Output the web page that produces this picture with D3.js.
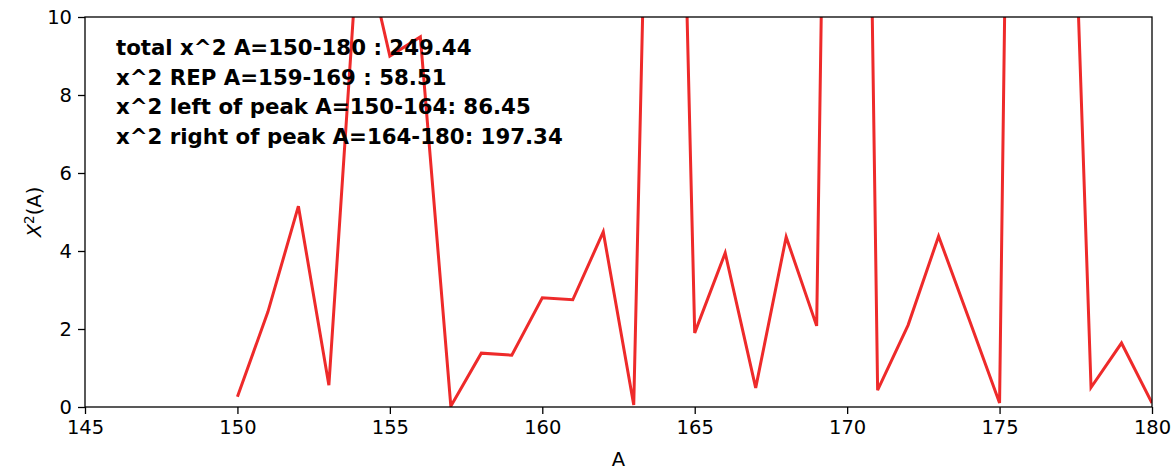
<!DOCTYPE html>
<html>
<head>
<meta charset="utf-8">
<script src="https://cdn.jsdelivr.net/npm/d3@7"></script>
<style>
  html, body { margin: 0; padding: 0; background: #fff; }
  svg { display: block; }
  text { font-family: "DejaVu Sans", sans-serif; }
</style>
</head>
<body>
<svg id="chart" width="1176" height="472"></svg>
<script>
// Mass number A and chi-square contribution per A
const massNumbers = [150, 151, 152, 153, 154, 155, 156, 157, 158, 159, 160,
                     161, 162, 163, 164, 165, 166, 167, 168, 169, 170,
                     171, 172, 173, 174, 175, 176, 177, 178, 179, 180];
const chiSquare = [0.26, 2.44, 5.15, 0.56, 12.38, 9.00, 9.49, 0.02, 1.38, 1.33, 2.80,
                   2.75, 4.49, 0.05, 34.31, 1.90, 3.95, 0.49, 4.36, 2.08, 55.0,
                   0.43, 2.10, 4.38, 2.25, 0.10, 60.0, 23.7, 0.50, 1.64, 0.10];

const xTicks = [145, 150, 155, 160, 165, 170, 175, 180];
const yTicks = [0, 2, 4, 6, 8, 10];

const summaryLines = [
  "total x^2 A=150-180 : 249.44",
  "x^2 REP A=159-169 : 58.51",
  "x^2 left of peak A=150-164: 86.45",
  "x^2 right of peak A=164-180: 197.34"
];

const margin = { left: 85, right: 24, top: 17, bottom: 65 };
const width = 1176, height = 472;
const svg = d3.select("#chart");

const x = d3.scaleLinear().domain([145, 180]).range([margin.left, width - margin.right]);
const y = d3.scaleLinear().domain([0, 10]).range([height - margin.bottom, margin.top]);

svg.append("defs").append("clipPath").attr("id", "plot-clip")
  .append("rect")
  .attr("x", x.range()[0]).attr("y", y.range()[1])
  .attr("width", x.range()[1] - x.range()[0])
  .attr("height", y.range()[0] - y.range()[1]);

const data = massNumbers.map((a, i) => ({ a, v: chiSquare[i] }));

svg.append("path")
  .datum(data)
  .attr("clip-path", "url(#plot-clip)")
  .attr("fill", "none")
  .attr("stroke", "#ee2a2a")
  .attr("stroke-width", 3)
  .attr("stroke-linejoin", "miter")
  .attr("d", d3.line().x(d => x(d.a)).y(d => y(d.v)));

// Axes
const xAxis = svg.append("g")
  .attr("transform", `translate(0,${y(0)})`)
  .call(d3.axisBottom(x).tickValues(xTicks).tickFormat(d3.format("d")).tickSizeOuter(0).tickSize(7).tickPadding(6));
const yAxis = svg.append("g")
  .attr("transform", `translate(${x(145)},0)`)
  .call(d3.axisLeft(y).tickValues(yTicks).tickFormat(d3.format("d")).tickSizeOuter(0).tickSize(7).tickPadding(6));

[xAxis, yAxis].forEach(g => {
  g.select(".domain").remove();
  g.selectAll(".tick line").attr("stroke", "#000").attr("stroke-width", 1.3);
  g.selectAll(".tick text").attr("fill", "#000")
    .style("font-family", "'DejaVu Sans', sans-serif").style("font-size", "19.5px");
});

// Frame
svg.append("rect")
  .attr("x", x.range()[0]).attr("y", y.range()[1])
  .attr("width", x.range()[1] - x.range()[0])
  .attr("height", y.range()[0] - y.range()[1])
  .attr("fill", "none").attr("stroke", "#000").attr("stroke-width", 1.3);

// Axis labels
svg.append("text")
  .attr("x", (x.range()[0] + x.range()[1]) / 2)
  .attr("y", 466)
  .attr("text-anchor", "middle")
  .style("font-size", "19.5px")
  .text("A");

const yl = svg.append("text")
  .attr("transform", `translate(41,${(y.range()[0] + y.range()[1]) / 2}) rotate(-90)`)
  .attr("text-anchor", "middle")
  .style("font-size", "19.5px");
yl.append("tspan").style("font-style", "italic").text("X");
yl.append("tspan").attr("dy", -7).style("font-size", "13.5px").text("2");
yl.append("tspan").attr("dy", 7).text("(A)");

// Summary text
svg.append("g")
  .selectAll("text")
  .data(summaryLines)
  .join("text")
  .attr("x", 116)
  .attr("y", (d, i) => 55 + i * 29.6)
  .style("font-size", "21.3px")
  .style("font-weight", "bold")
  .text(d => d);
</script>
</body>
</html>
